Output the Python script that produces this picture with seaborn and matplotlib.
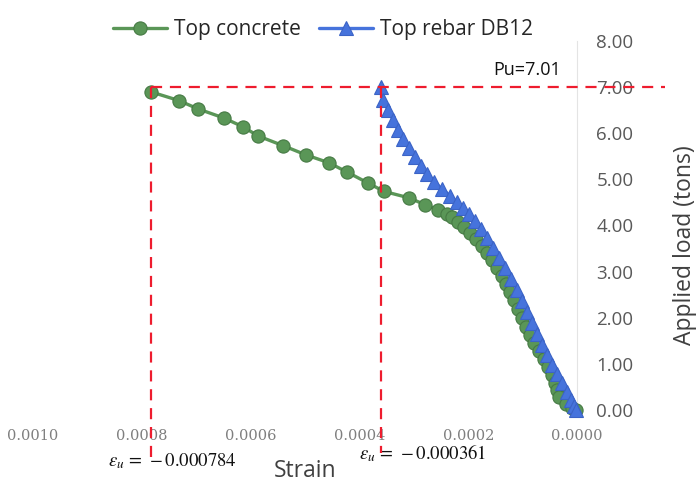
import numpy as np
import pandas as pd
import matplotlib
matplotlib.use("Agg")
import matplotlib.pyplot as plt
import matplotlib.transforms as mtransforms
import seaborn as sns

# Load-strain readings (strain magnitude, applied load in tons)
concrete_strain = [0.000784, 0.000732, 0.000697, 0.000649, 0.000614, 0.000586,
                   0.000540, 0.000498, 0.000456, 0.000423, 0.000384, 0.000355,
                   0.000309, 0.000279, 0.000256, 0.000239, 0.000230, 0.000219,
                   0.000208, 0.000197, 0.000186, 0.000175, 0.000165, 0.000156,
                   0.000147, 0.000138, 0.000131, 0.000123, 0.000116, 0.000108,
                   0.000101, 0.000094, 0.000086, 0.000079, 0.000070, 0.000061,
                   0.000053, 0.000046, 0.000040, 0.000037, 0.000033, 0.000020,
                   0.000009, 0.000002]
concrete_load = [6.90, 6.71, 6.53, 6.33, 6.14, 5.94, 5.73, 5.53, 5.36, 5.16,
                 4.92, 4.74, 4.60, 4.45, 4.34, 4.25, 4.19, 4.08, 3.97, 3.84,
                 3.71, 3.56, 3.41, 3.25, 3.08, 2.91, 2.73, 2.56, 2.39, 2.19,
                 2.00, 1.80, 1.63, 1.45, 1.28, 1.11, 0.93, 0.76, 0.59, 0.43,
                 0.28, 0.13, 0.04, 0.00]

rebar_strain = [0.000361, 0.000357, 0.000347, 0.000338, 0.000329, 0.000320,
                0.000309, 0.000298, 0.000287, 0.000276, 0.000263, 0.000248,
                0.000233, 0.000221, 0.000210, 0.000199, 0.000188, 0.000176,
                0.000165, 0.000154, 0.000143, 0.000132, 0.000121, 0.000110,
                0.000101, 0.000092, 0.000083, 0.000074, 0.000064, 0.000055,
                0.000046, 0.000037, 0.000028, 0.000018, 0.000011, 0.000006,
                0.000002]
rebar_load = [7.01, 6.72, 6.51, 6.29, 6.07, 5.88, 5.68, 5.49, 5.29, 5.12,
              4.95, 4.79, 4.64, 4.51, 4.38, 4.25, 4.10, 3.93, 3.73, 3.51,
              3.30, 3.08, 2.84, 2.60, 2.36, 2.13, 1.89, 1.65, 1.41, 1.19,
              0.98, 0.78, 0.59, 0.39, 0.22, 0.09, 0.00]

PU = 7.01
EPS_U_CONCRETE = 0.000784
EPS_U_REBAR = 0.000361

x_ticks = [0.0010, 0.0008, 0.0006, 0.0004, 0.0002, 0.0000]
y_ticks = [0, 1, 2, 3, 4, 5, 6, 7, 8]

sns.set_theme(style="white")
plt.rcParams["font.family"] = ["Open Sans", "DejaVu Sans"]
plt.rcParams["mathtext.fontset"] = "stix"

concrete_df = pd.DataFrame({"Strain": concrete_strain, "Load": concrete_load})
rebar_df = pd.DataFrame({"Strain": rebar_strain, "Load": rebar_load})

fig = plt.figure(figsize=(6.98, 4.82), dpi=100)
ax = fig.add_axes([33 / 698, 72 / 482, 544 / 698, 369 / 482])

green = "#5a9657"
green_edge = "#467a44"
blue = "#4673dc"
blue_edge = "#3b63c6"

sns.lineplot(data=concrete_df, x="Strain", y="Load", ax=ax, sort=False,
             estimator=None, color=green, linewidth=2.4, marker="o",
             markersize=9.5, markerfacecolor=green, markeredgecolor=green_edge,
             markeredgewidth=0.8, clip_on=False, label="Top concrete", zorder=3)
sns.lineplot(data=rebar_df, x="Strain", y="Load", ax=ax, sort=False,
             estimator=None, color=blue, linewidth=2.4, marker="^",
             markersize=10, markerfacecolor=blue, markeredgecolor=blue_edge,
             markeredgewidth=0.8, clip_on=False, label="Top rebar DB12", zorder=4)

ax.set_xlim(0.0010, 0.0)
ax.set_ylim(0, 8)

# Ultimate load and strain guide lines
red = "#ee1c2e"
dash = dict(color=red, linewidth=1.6, linestyle=(0, (5, 3.5)), clip_on=False, zorder=6)
ax.plot([EPS_U_CONCRETE, -0.000162], [PU, PU], **dash)
ax.plot([EPS_U_CONCRETE, EPS_U_CONCRETE], [PU, -1.04], **dash)
ax.plot([EPS_U_REBAR, EPS_U_REBAR], [PU, -0.93], **dash)

ax.text(0.000092, PU + 0.36, f"Pu={PU:.2f}", ha="center", va="center",
        fontsize=13, color="#111111")

# Axis styling: y-axis on the right, no frame
for side in ["top", "left", "bottom"]:
    ax.spines[side].set_visible(False)
ax.spines["right"].set_color("#e4e4e4")
ax.spines["right"].set_linewidth(0.8)
ax.yaxis.tick_right()
ax.yaxis.set_label_position("right")

ax.set_xticks(x_ticks)
ax.set_xticklabels([f"{v:.4f}" for v in x_ticks], fontfamily="DejaVu Serif",
                   fontsize=10.5, color="#7f7f7f")
ax.set_yticks(y_ticks)
ax.set_yticklabels([f"{v:.2f}" for v in y_ticks], fontsize=13.5, color="#595959")
ax.tick_params(axis="x", length=0, pad=14)
ax.tick_params(axis="y", length=0, pad=14)

ax.set_xlabel("Strain", fontsize=16.5, color="#404040")
ax.xaxis.set_label_coords(0.5, -0.165)
ax.xaxis.label.set_va("center")
ax.set_ylabel("Applied load (tons)", fontsize=16.5, color="#404040", rotation=90)
ax.yaxis.set_label_coords(1.199, 0.447)
ax.yaxis.label.set_va("center")
ax.yaxis.label.set_ha("center")

trans = mtransforms.blended_transform_factory(ax.transData, ax.transAxes)
ax.text(0.000744, -0.138, r"$\varepsilon_u\,=\,-0.000784$", transform=trans,
        ha="center", va="center", fontsize=13.5, color="#111111")
ax.text(0.000284, -0.118, r"$\varepsilon_u\,=\,-0.000361$", transform=trans,
        ha="center", va="center", fontsize=13.5, color="#111111")

ax.get_legend().remove()
handles, labels = ax.get_legend_handles_labels()
fig.legend(handles, labels, loc="center", bbox_to_anchor=(323 / 698, 1 - 30 / 482),
           ncol=2, frameon=False, fontsize=15, handlelength=2.6,
           handletextpad=0.3, columnspacing=0.9, labelcolor="#262626")

fig.savefig("out.png", dpi=100, facecolor="white")
